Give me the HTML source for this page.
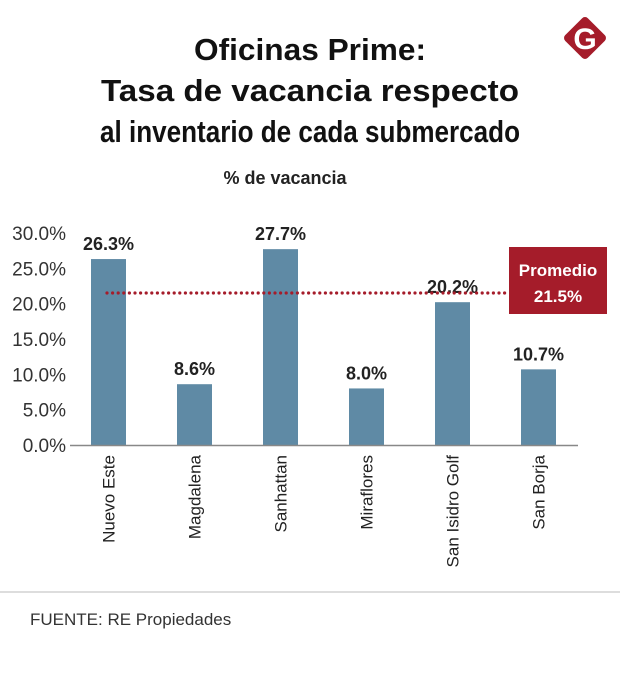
<!DOCTYPE html>
<html><head><meta charset="utf-8"><style>
body{margin:0;background:#fff;}
svg text{font-family:"Liberation Sans",sans-serif;}
</style></head><body>
<svg id="chart" width="620" height="668" viewBox="0 0 620 668" xmlns="http://www.w3.org/2000/svg">
<g>
<rect x="569" y="22" width="32" height="32" rx="4" fill="#a51c2a" transform="rotate(45 585 38)"/>
<text x="585" y="49" text-anchor="middle" font-size="30" font-weight="bold" fill="#fff" font-family="Liberation Serif">G</text>
</g>
<text x="310" y="60" text-anchor="middle" font-size="31" font-weight="bold" fill="#111" textLength="232" lengthAdjust="spacingAndGlyphs">Oficinas Prime:</text>
<text x="310" y="101" text-anchor="middle" font-size="31" font-weight="bold" fill="#111" textLength="418" lengthAdjust="spacingAndGlyphs">Tasa de vacancia respecto</text>
<text x="310" y="142" text-anchor="middle" font-size="31" font-weight="bold" fill="#111" textLength="420" lengthAdjust="spacingAndGlyphs">al inventario de cada submercado</text>
<text x="285" y="184" text-anchor="middle" font-size="18" font-weight="bold" fill="#222">% de vacancia</text>
<g id="plot"></g>
<line x1="0" y1="592" x2="620" y2="592" stroke="#bbb" stroke-width="1"/>
<text x="30" y="625" font-size="17" fill="#333">FUENTE: RE Propiedades</text>
</svg>
<script>
const categories=["Nuevo Este","Magdalena","Sanhattan","Miraflores","San Isidro Golf","San Borja"];
const values=[26.3,8.6,27.7,8.0,20.2,10.7];
const valueLabels=["26.3%","8.6%","27.7%","8.0%","20.2%","10.7%"];
const ticks=[0,5,10,15,20,25,30];
const tickLabels=["0.0%","5.0%","10.0%","15.0%","20.0%","25.0%","30.0%"];
const average=[21.5];
const NS="http://www.w3.org/2000/svg";
const plot=document.getElementById('plot');
const y=v=>445-v*7.07;
const x=i=>108.5+i*86;
function mk(tag,attrs,txt){const e=document.createElementNS(NS,tag);for(const k in attrs)e.setAttribute(k,attrs[k]);if(txt!==undefined)e.textContent=txt;plot.appendChild(e);return e;}
ticks.forEach((t,i)=>{
 const e=mk('text',{x:66,y:y(t)+7,'text-anchor':'end','font-size':19,fill:'#333'},tickLabels[i]);
 
 
});
values.forEach((v,i)=>{
 const r=mk('rect',{x:x(i)-17.5,y:y(v),width:35,height:445-y(v),fill:'#5f8aa5'});
 
 
 const t=mk('text',{x:x(i),y:y(v)-9,'text-anchor':'middle','font-size':18,'font-weight':'bold',fill:'#222'},valueLabels[i]);
 
 
 const c=mk('text',{x:0,y:0,'text-anchor':'end','font-size':17,fill:'#222',transform:`translate(${x(i)+6},455) rotate(-90)`},categories[i]);
 
 
});
const ax=mk('line',{x1:70,y1:445.5,x2:578,y2:445.5,stroke:'#888','stroke-width':1.5});


const av=mk('line',{x1:107,y1:y(average[0]),x2:509,y2:y(average[0]),stroke:'#a51c2a','stroke-width':3.2,'stroke-dasharray':'0 5.6','stroke-linecap':'round'});


const bx=mk('rect',{x:509,y:247,width:98,height:67,fill:'#a51c2a'});


const l1=mk('text',{x:558,y:276,'text-anchor':'middle','font-size':17,'font-weight':'bold',fill:'#fff'},'Promedio');


const l2=mk('text',{x:558,y:302,'text-anchor':'middle','font-size':17,'font-weight':'bold',fill:'#fff'},average[0].toFixed(1)+'%');


</script>
</body></html>
